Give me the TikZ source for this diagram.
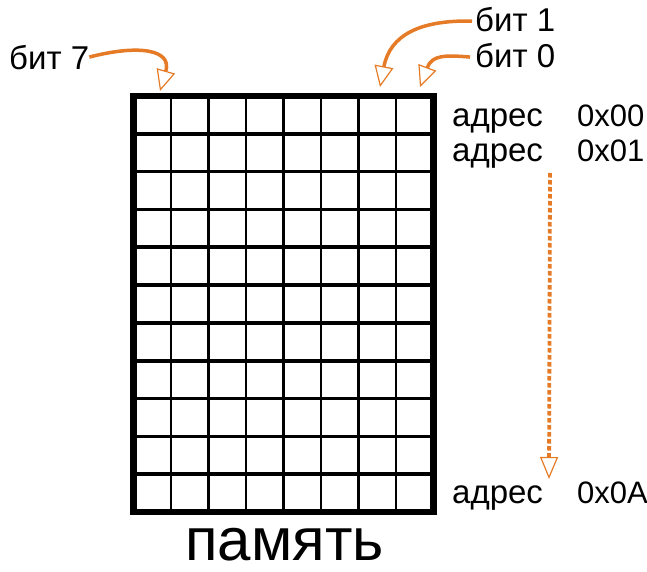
\documentclass[tikz,border=0pt]{standalone}
\usepackage{fontspec}
\setmainfont{Liberation Sans}
\usetikzlibrary{arrows.meta}
\definecolor{arrorange}{RGB}{229,123,38}
\tikzset{
  lbl/.style={inner sep=0pt, anchor=base west, font=\fontsize{33}{36}\selectfont},
  hexlbl/.style={inner sep=0pt, anchor=base west, font=\fontsize{31}{34}\selectfont},
  biglbl/.style={inner sep=0pt, anchor=base, font=\fontsize{60}{66}\selectfont},
  bitarrow/.style={draw=arrorange, line width=3.5pt,
    -{Triangle[length=21pt, width=19pt, line width=1.2pt, fill=white]}},
  dotarrow/.style={draw=arrorange, line width=3.8pt, dash pattern=on 4.5pt off 2.5pt,
    -{Triangle[length=22pt, width=18pt, line width=1.2pt, fill=white]}},
  colline/.style={line width=2.3pt},
  rowline/.style={line width=3.6pt},
  frame/.style={line width=6.5pt}
}
\begin{document}
\begin{tikzpicture}[x=1pt,y=-1pt]
\useasboundingbox (0,0) rectangle (647,572);
% grid
\foreach \i in {1,...,7}
  \draw[colline] ({133.5+37.5*\i},96) -- ({133.5+37.5*\i},512);
\foreach \j in {1,...,10}
  \draw[rowline] (133.5,{96+416/11*\j}) -- (433.5,{96+416/11*\j});
\draw[frame] (133.5,96) rectangle (433.5,512);
% labels
\node[lbl] (b7) at (9,70) {бит 7};
\node[lbl] (b1) at (475,32) {бит 1};
\node[lbl] (b0) at (475,68) {бит 0};
\node[lbl] (a0) at (452,127) {адрес};
\node[hexlbl] (h0) at (577,127) {0x00};
\node[lbl] (a1) at (452,162) {адрес};
\node[hexlbl] (h1) at (577,162) {0x01};
\node[lbl] (aA) at (452,503) {адрес};
\node[hexlbl] (hA) at (577,503) {0x0A};
\node[biglbl] (mem) at (284.5,560) {память};
% targets
\coordinate (t7) at (160,91);
\coordinate (t1) at (380,87);
\coordinate (t0) at (420,87);
\coordinate (dtop) at (550,173);
\coordinate (dtip) at (549,479);
% arrows
\draw[bitarrow] ([yshift=1pt]b7.east) .. controls (140,44) and (172,50) .. (t7);
\draw[bitarrow] ([xshift=-3pt,yshift=-1pt]b1.west) .. controls (420,20) and (390,35) .. (t1);
\draw[bitarrow] ([xshift=-5pt,yshift=-1pt]b0.west) .. controls (445,55) and (432,55) .. (t0);
\draw[dotarrow] (dtop) -- (dtip);
\end{tikzpicture}
\end{document}
